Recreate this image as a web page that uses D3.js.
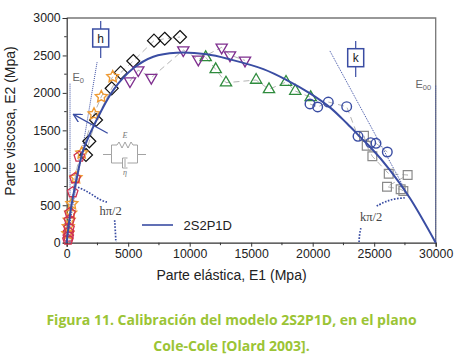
<!DOCTYPE html>
<html>
<head>
<meta charset="utf-8">
<script src="https://cdn.jsdelivr.net/npm/d3@7"></script>
<style>
html, body { margin: 0; padding: 0; background: #fff; }
svg { display: block; }
text { font-family: "Liberation Sans", Arial, sans-serif; }
</style>
</head>
<body>
<svg id="chart" width="463" height="364"></svg>
<script>
// data: [E1, E2]
const diamonds = [[1569,1171],[1837,1354],[2382,1638],[3658,2061],[4390,2270],[5414,2426],[7097,2697],[7967,2723],[9211,2746]];
const stars = [[90,120],[130,214],[200,300],[325,396],[420,520],[756,868],[1220,1197],[2220,1718],[2813,1949],[3740,2216]];
const pentagons = [[100,40],[130,80],[160,140],[187,196],[220,300],[268,396],[488,673],[675,860],[1024,1148]];
const triDown = [[5146,2158],[5821,2305],[6878,2203],[9480,2572],[10700,2448],[12600,2608],[13276,2505],[14496,2434]];
const triUp = [[11300,2475],[12114,2315],[12951,2136],[15400,2172],[16447,2048],[17830,2145],[18585,2025],[19837,1941]];
const circles = [[19780,1852],[20406,1812],[21268,1878],[22764,1816],[23683,1420],[24715,1335],[25146,1327],[26065,1211]];
const squares = [[24170,1428],[24390,1295],[24850,1153],[26180,921],[27720,904],[26040,748],[27150,713],[27370,690]];
const model = [[0,0],[120,180],[325,436],[813,860],[1350,1237],[2300,1594],[3790,2038],[5415,2328],[7040,2483],[8940,2536],[11380,2515],[13276,2448],[15990,2318],[17890,2172],[19780,1994],[21400,1807],[22770,1594],[24110,1370],[24660,1281],[26280,970],[27910,593],[30000,0]];

// dotted guides and arcs, also in chart units
const tangentH = [[0,0],[2480,2420]];
const tangentK = [[21400,2560],[27900,590]];
const lineE0 = [[270,0],[270,2130]];
const lineEoo = [[30000,0],[30000,2110]];
const arcH = [[920,740],[1500,700],[2100,640],[2700,570],[3300,540]];
const arcH2 = [[3900,300],[3950,170],[4000,10]];
const arcK = [[23770,10],[23800,110],[23920,200]];
const arcK2 = [[25200,490],[25900,550],[26700,590],[27600,600]];

const xTicks = [0,5000,10000,15000,20000,25000,30000];
const yTicks = [0,500,1000,1500,2000,2500,3000];
const captionLines = ["Figura 11. Calibración del modelo 2S2P1D, en el plano", "Cole-Cole [Olard 2003]."];

const blue = "#3a4da3";
const svg = d3.select("#chart");
const x = d3.scaleLinear().domain([0,30000]).range([66.7,435.7]);
const y = d3.scaleLinear().domain([0,3000]).range([242.7,18]);

// frame
svg.append("path")
    .attr("d", `M${x(0)},${y(3000)}H${x(30000)}V${y(0)}`)
    .attr("fill", "none").attr("stroke", "#777").attr("stroke-width", 1.3);

// axes
const xAxis = svg.append("g").attr("transform", `translate(0,${y(0)})`)
    .call(d3.axisBottom(x).tickValues(xTicks).tickSize(4).tickPadding(3).tickFormat(d3.format("d")));
xAxis.append("g").selectAll("line").data(d3.range(2500,30000,5000)).enter().append("line")
    .attr("x1", d => x(d)).attr("x2", d => x(d)).attr("y1", 0).attr("y2", 2.5).attr("stroke", "#333");
const yAxis = svg.append("g").attr("transform", `translate(${x(0)},0)`)
    .call(d3.axisLeft(y).tickValues(yTicks).tickSize(4).tickPadding(2).tickFormat(d3.format("d")));
yAxis.append("g").selectAll("line").data(d3.range(250,3000,500)).enter().append("line")
    .attr("y1", d => y(d)).attr("y2", d => y(d)).attr("x1", 0).attr("x2", -2.5).attr("stroke", "#333");
svg.selectAll(".domain").attr("stroke", "#333").attr("stroke-width", 1.2);
svg.selectAll(".tick line").attr("stroke", "#333");
svg.selectAll(".tick text").attr("fill", "#222").style("font-size", "12.3px");

svg.append("text").attr("x", 231.5).attr("y", 280).attr("text-anchor", "middle")
    .attr("fill", "#222").style("font-size", "14px").text("Parte elástica, E1 (Mpa)");
svg.append("text").attr("transform", "translate(15,121) rotate(-90)").attr("text-anchor", "middle")
    .attr("fill", "#222").style("font-size", "14px").text("Parte viscosa, E2 (Mpa)");

const line = d3.line().x(d => x(d[0])).y(d => y(d[1]));

// dotted guides
[tangentH, tangentK, lineE0, lineEoo].forEach(g => {
    svg.append("path").attr("d", line(g)).attr("fill", "none")
        .attr("stroke", blue).attr("stroke-width", 1).attr("stroke-dasharray", "1 1");
});
[arcH, arcH2, arcK, arcK2].forEach(g => {
    svg.append("path").attr("d", line.curve(d3.curveBasis)(g)).attr("fill", "none")
        .attr("stroke", blue).attr("stroke-width", 1.7).attr("stroke-dasharray", "1.6 1.5");
});
line.curve(d3.curveLinear);

// thin connectors between the measured points
[diamonds, stars, pentagons, triDown, triUp, circles, squares].forEach(s => {
    svg.append("path").attr("d", line(s)).attr("fill", "none")
        .attr("stroke", "#666").attr("stroke-width", 0.5).attr("stroke-dasharray", "6 4");
});

// markers
const polyPts = (n, r, rot) => d3.range(n).map(i => {
    const a = rot + i * 2 * Math.PI / n;
    return [r * Math.sin(a), -r * Math.cos(a)];
});
const starPts = r => d3.range(10).map(i => {
    const a = i * Math.PI / 5, q = i % 2 ? r * 0.5 : r;
    return [q * Math.sin(a), -q * Math.cos(a)];
});
const closed = d3.line().curve(d3.curveLinearClosed);
function drawMarks(data, path, color, width) {
    svg.append("g").selectAll("path").data(data).enter().append("path")
        .attr("transform", d => `translate(${x(d[0])},${y(d[1])})`)
        .attr("d", path).attr("fill", "none").attr("stroke", color).attr("stroke-width", width);
}
drawMarks(squares, closed(polyPts(4, 6.2, Math.PI / 4)), "#8a8a8a", 1.2);
drawMarks(diamonds, closed(polyPts(4, 6.5, 0)), "#111", 1.2);
drawMarks(triUp, closed(polyPts(3, 6.5, 0)), "#2e8b3d", 1.3);
drawMarks(triDown, closed(polyPts(3, 6.5, Math.PI)), "#7f2f8f", 1.3);
drawMarks(stars, closed(starPts(6.2)), "#ee9a33", 1.4);
drawMarks(pentagons, closed(polyPts(5, 5.5, 0)), "#cf3350", 1.3);

// model curve
svg.append("path").attr("d", line.curve(d3.curveCatmullRom)(model)).attr("fill", "none")
    .attr("stroke", blue).attr("stroke-width", 2);
line.curve(d3.curveLinear);

svg.append("g").selectAll("circle").data(circles).enter().append("circle")
    .attr("cx", d => x(d[0])).attr("cy", d => y(d[1])).attr("r", 4.8)
    .attr("fill", "none").attr("stroke", blue).attr("stroke-width", 1.4);

// arrow
svg.append("defs").append("marker").attr("id", "head").attr("viewBox", "0 0 10 10")
    .attr("refX", 9).attr("refY", 5).attr("markerWidth", 9).attr("markerHeight", 9)
    .attr("markerUnits", "userSpaceOnUse").attr("orient", "auto").append("path")
    .attr("d", "M0,0L9,5L0,10").attr("fill", "none").attr("stroke", blue).attr("stroke-width", 1.5);
svg.append("line").attr("x1", 107.7).attr("y1", 133.3).attr("x2", 73.5).attr("y2", 114.4)
    .attr("stroke", blue).attr("stroke-width", 1.3).attr("marker-end", "url(#head)");

// h and k boxes
[{ cx: 100.7, top: 21, bottom: 58, by: 29, label: "h" }, { cx: 355.7, top: 41, bottom: 77, by: 48.7, label: "k" }].forEach(b => {
    svg.append("line").attr("x1", b.cx).attr("x2", b.cx).attr("y1", b.top).attr("y2", b.bottom)
        .attr("stroke", blue).attr("stroke-width", 1.2);
    svg.append("rect").attr("x", b.cx - 8).attr("y", b.by).attr("width", 16).attr("height", 18)
        .attr("fill", "#fff").attr("stroke", blue).attr("stroke-width", 1.5);
    svg.append("text").attr("x", b.cx).attr("y", b.by + 13.5).attr("text-anchor", "middle")
        .attr("fill", "#222").style("font-size", "12px").text(b.label);
});

// spring and dashpot sketch
const circuit = svg.append("g").attr("fill", "none").attr("stroke", "#999").attr("stroke-width", 0.9);
circuit.append("path").attr("d", "M103,154.5H111.5V145H117l2,-3l3,6l3,-6l3,6l3,-6l2,3H137.5V154.5H146M111.5,154.5V163H122.5M127.5,163H137.5V154.5");
circuit.append("path").attr("d", "M127.5,158H122.5V168H127.5M125,159V167");
const serif = '"Liberation Serif", serif';
svg.append("text").attr("x", 125).attr("y", 138).attr("text-anchor", "middle").attr("fill", "#777")
    .style("font-family", serif).style("font-style", "italic").style("font-size", "8px").text("E");
svg.append("text").attr("x", 125).attr("y", 175).attr("text-anchor", "middle").attr("fill", "#777")
    .style("font-family", serif).style("font-style", "italic").style("font-size", "8px").text("η");

// annotations
function note(px, py, txt, sub) {
    const t = svg.append("text").attr("x", px).attr("y", py).attr("fill", "#666").style("font-size", "11px").text(txt);
    if (sub) t.append("tspan").attr("dy", 2).style("font-size", "7.5px").text(sub);
}
note(72.5, 81, "E", "0");
note(415.5, 88, "E", "00");
svg.append("text").attr("x", 99.5).attr("y", 215).attr("fill", "#444")
    .style("font-family", serif).style("font-size", "12.5px").text("hπ/2");
svg.append("text").attr("x", 360).attr("y", 221).attr("fill", "#444")
    .style("font-family", serif).style("font-size", "12.5px").text("kπ/2");

// legend
svg.append("line").attr("x1", 142).attr("x2", 173).attr("y1", 225).attr("y2", 225)
    .attr("stroke", blue).attr("stroke-width", 1.6);
svg.append("text").attr("x", 183.5).attr("y", 230).attr("fill", "#222").style("font-size", "13px").text("2S2P1D");

// caption
svg.selectAll(".cap").data(captionLines).enter().append("text").attr("class", "cap")
    .attr("x", 231.5).attr("y", (d, i) => 325 + i * 25.7).attr("text-anchor", "middle")
    .attr("fill", "#9bc435").style("font-family", '"Open Sans", sans-serif').style("font-weight", 700)
    .style("font-size", "14px").text(d => d);
</script>
</body>
</html>
